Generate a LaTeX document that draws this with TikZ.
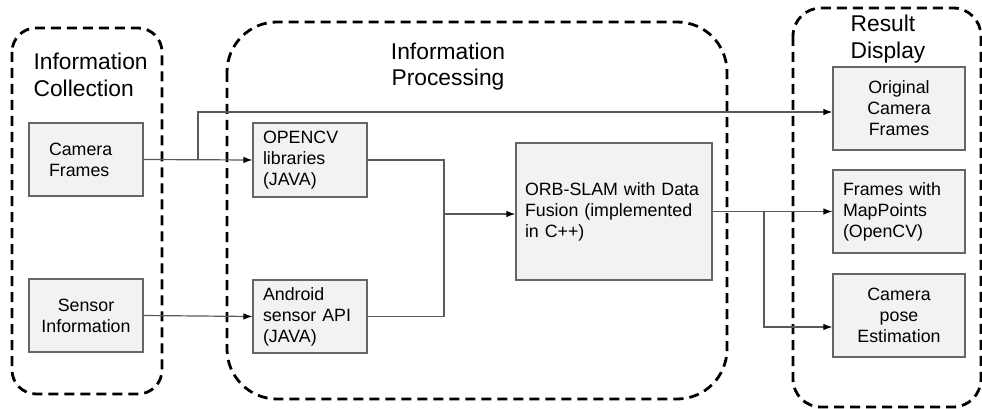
\documentclass[tikz,border=0pt]{standalone}
\usepackage{fontspec}
\setmainfont{Liberation Sans}
\usetikzlibrary{arrows.meta,calc}
\tikzset{
every picture/.style={
line width=1.2pt
},
box/.style={draw=black!60, fill=black!5, inner ysep=0pt, minimum height=73pt,
  font=\fontsize{17.8}{21}\selectfont},
grp/.style={draw=black, line width=2.8pt, dash pattern=on 10pt off 6pt},
title/.style={inner sep=0pt, font=\fontsize{22.8}{26.5}\selectfont},
link/.style={draw=black!65, -{Latex[length=9pt,width=6.5pt,color=black]}}
}

\begin{document}
\begin{tikzpicture}[x=1pt,y=-1pt]
  \useasboundingbox (0,0) rectangle (982,409);

  % groups
  \draw [grp, rounded corners=24pt] (12,28) rectangle (162,394);
  \draw [grp, rounded corners=50pt] (227,22) rectangle (727,399);
  \draw [grp, rounded corners=28pt] (793,8) rectangle (981,407);

  \node (tcol) [title, align=left, anchor=west] at (33,75) {Information\\Collection};
  \node (tproc) [title, align=center] at (448,66.5) {Information\\Processing};
  \node (tres) [title, align=left, anchor=west] at (850,39) {Result\\Display};

  % inputs
  \node (cam) [box, align=left, text width=74pt, inner xsep=20pt] at (86,159.5) {Camera\\Frames};
  \node (sens) [box, align=center, text width=104pt, inner xsep=5pt] at (86,315.5) {Sensor\\Information};

  % processing
  \node (ocv) [box, align=left, text width=94pt, inner xsep=10pt, minimum height=74pt] at (310,160) {OPENCV\\libraries\\(JAVA)};
  \node (andr) [box, align=left, text width=94pt, inner xsep=10pt] at (310,316.5) {Android\\sensor API\\(JAVA)};
  \node (orb) [box, align=left, text width=178pt, inner xsep=9pt, minimum height=137pt] at (614,211.5) {ORB-SLAM with Data\\Fusion (implemented\\in C++)};

  % outputs
  \node (orig) [box, align=center, text width=122pt, inner xsep=5pt, minimum height=83pt] at (899,108.5) {Original\\Camera\\Frames};
  \node (mapp) [box, align=left, text width=112pt, inner xsep=10pt, minimum height=83pt] at (899,211.5) {Frames with\\MapPoints\\(OpenCV)};
  \node (pose) [box, align=center, text width=122pt, inner xsep=5pt, minimum height=83pt] at (899,315.5) {Camera\\pose\\Estimation};

  \coordinate (split) at ($(cam.east)!.5!(ocv.west)$);
  \coordinate (rail) at (198,112);
  \coordinate (join) at (444,214);
  \coordinate (fork) at (764,211.5);
  \coordinate (rail2) at (764,327);

  \draw [link] (cam.east) -- (ocv.west);
  \draw [link] (split) |- (rail -| orig.west);
  \draw [link] (sens.east) -- (andr.west);

  \draw [draw=black!65] (ocv.east) -| (join);
  \draw [draw=black!65] (andr.east) -| (join);
  \draw [link] (join) -- (join -| orb.west);

  \draw [link] (orb.east) -- (mapp.west);
  \draw [link] (fork) |- (rail2 -| pose.west);

\end{tikzpicture}
\end{document}
